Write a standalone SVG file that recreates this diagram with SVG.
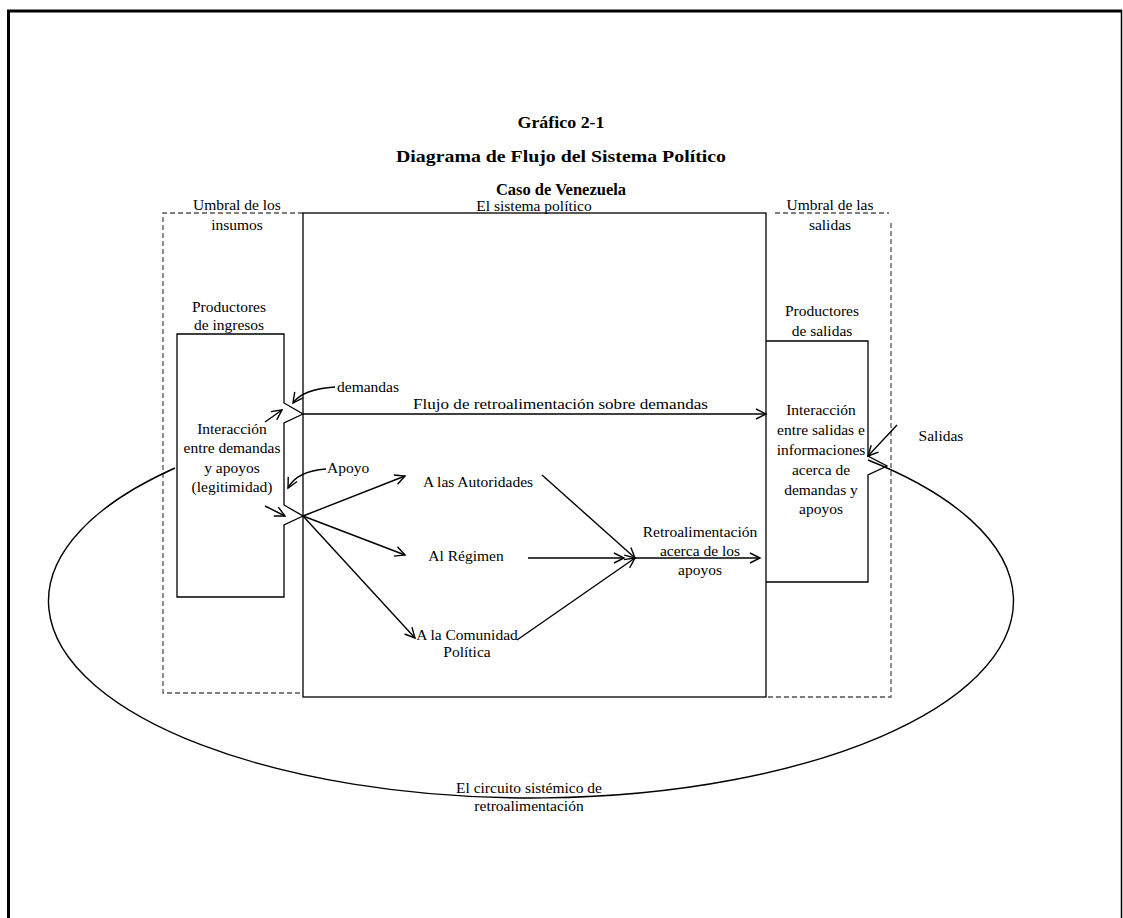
<svg xmlns="http://www.w3.org/2000/svg" width="1123" height="918" viewBox="0 0 1123 918" font-family="'Liberation Serif', 'DejaVu Serif', serif">
<defs>
<marker id="ah" markerUnits="userSpaceOnUse" markerWidth="14" markerHeight="14" refX="11" refY="6" orient="auto">
<path d="M1,1 L11,6 L1,11" fill="none" stroke="#000" stroke-width="1.4"/>
</marker>
<style>
text{font-family:'Liberation Serif','DejaVu Serif',serif;font-size:15.5px;fill:#000;text-anchor:middle}
.t{font-weight:bold;font-size:16.5px}
.l{text-anchor:start}
.box{fill:none;stroke:#000;stroke-width:1.3}
.dash{fill:none;stroke:#555;stroke-width:1.3;stroke-dasharray:5,3}
.c{fill:none;stroke:#000;stroke-width:1.4}
</style>
</defs>
<rect width="1123" height="918" fill="#fff"/>
<g id="frame">
<path d="M8.5,918 V11" stroke="#000" stroke-width="3" fill="none"/>
<path d="M7,11 H1122" stroke="#000" stroke-width="3" fill="none"/>
<path d="M1121.5,10 V918" stroke="#000" stroke-width="1.5" fill="none"/>
</g>
<g id="title">
<text class="t" x="561" y="128" textLength="87" lengthAdjust="spacingAndGlyphs">Gráfico 2-1</text>
<text class="t" x="561" y="162" textLength="330" lengthAdjust="spacingAndGlyphs">Diagrama de Flujo del Sistema Político</text>
<text class="t" x="561" y="195">Caso de Venezuela</text>
</g>
<g id="umbral-insumos">
<path class="dash" d="M303,213 H163 V693 H303"/>
<text x="237" y="210">Umbral de los</text>
<text x="237" y="230">insumos</text>
</g>
<g id="sistema">
<rect class="box" x="303" y="213" width="463" height="484"/>
<text x="534" y="211">El sistema político</text>
</g>
<g id="umbral-salidas">
<path class="dash" d="M775,213 H889"/>
<path class="dash" d="M891,223 V697 H766"/>
<text x="830" y="210">Umbral de las</text>
<text x="830" y="230">salidas</text>
</g>
<g id="productores-ingresos">
<path class="box" d="M177,334 H284 V403 L303,414 L284,423 V505 L303,516 L284,525 V597 H177 Z"/>
<text x="229" y="312">Productores</text>
<text x="229" y="330">de ingresos</text>
<text x="232" y="434">Interacción</text>
<text x="232" y="453">entre demandas</text>
<text x="232" y="473">y apoyos</text>
<text x="232" y="492">(legitimidad)</text>
</g>
<g id="productores-salidas">
<path class="box" d="M766,341 H868 V456 L887,466 L868,475 V582 H766"/>
<text x="822" y="316">Productores</text>
<text x="822" y="336">de salidas</text>
<text x="821" y="415">Interacción</text>
<text x="821" y="435">entre salidas e</text>
<text x="821" y="455">informaciones</text>
<text x="821" y="475">acerca de</text>
<text x="821" y="495">demandas y</text>
<text x="821" y="514">apoyos</text>
</g>
<g id="autoridades"><text x="478" y="487">A las Autoridades</text></g>
<g id="regimen"><text x="466" y="561">Al Régimen</text></g>
<g id="comunidad"><text x="467" y="640">A la Comunidad</text><text x="467" y="657">Política</text></g>
<g id="labels">
<text class="l" x="337" y="392">demandas</text>
<text class="l" x="327" y="473">Apoyo</text>
<text x="560.5" y="409" textLength="295" lengthAdjust="spacingAndGlyphs">Flujo de retroalimentación sobre demandas</text>
<text x="700" y="537">Retroalimentación</text>
<text x="700" y="556">acerca de los</text>
<text x="700" y="575">apoyos</text>
<text x="941" y="441">Salidas</text>
<text x="529" y="793">El circuito sistémico de</text>
<text x="529" y="811">retroalimentación</text>
</g>
<g id="connectors">
<path class="c" d="M335,387 Q303,389 293,403" marker-end="url(#ah)"/>
<path class="c" d="M265,422 L282,410" marker-end="url(#ah)"/>
<path class="c" d="M303,414 H766" marker-end="url(#ah)"/>
<path class="c" d="M326,469 Q297,471 288,488" marker-end="url(#ah)"/>
<path class="c" d="M265,506 L285,516" marker-end="url(#ah)"/>
<path class="c" d="M303,516 L405,476" marker-end="url(#ah)"/>
<path class="c" d="M303,516 L405,555" marker-end="url(#ah)"/>
<path class="c" d="M303,516 L415,638" marker-end="url(#ah)"/>
<path class="c" d="M542,475 L635,558" marker-end="url(#ah)"/>
<path class="c" d="M528,558 L624,558" marker-end="url(#ah)"/>
<path class="c" d="M517,640 L635,558" marker-end="url(#ah)"/>
<path class="c" d="M635,558 L760,558" marker-end="url(#ah)"/>
<path class="c" d="M897,425 L868,456" marker-end="url(#ah)"/>
<path class="c" d="M175,468 A482.5,197 0 1 0 868,460"/>
</g>
</svg>
